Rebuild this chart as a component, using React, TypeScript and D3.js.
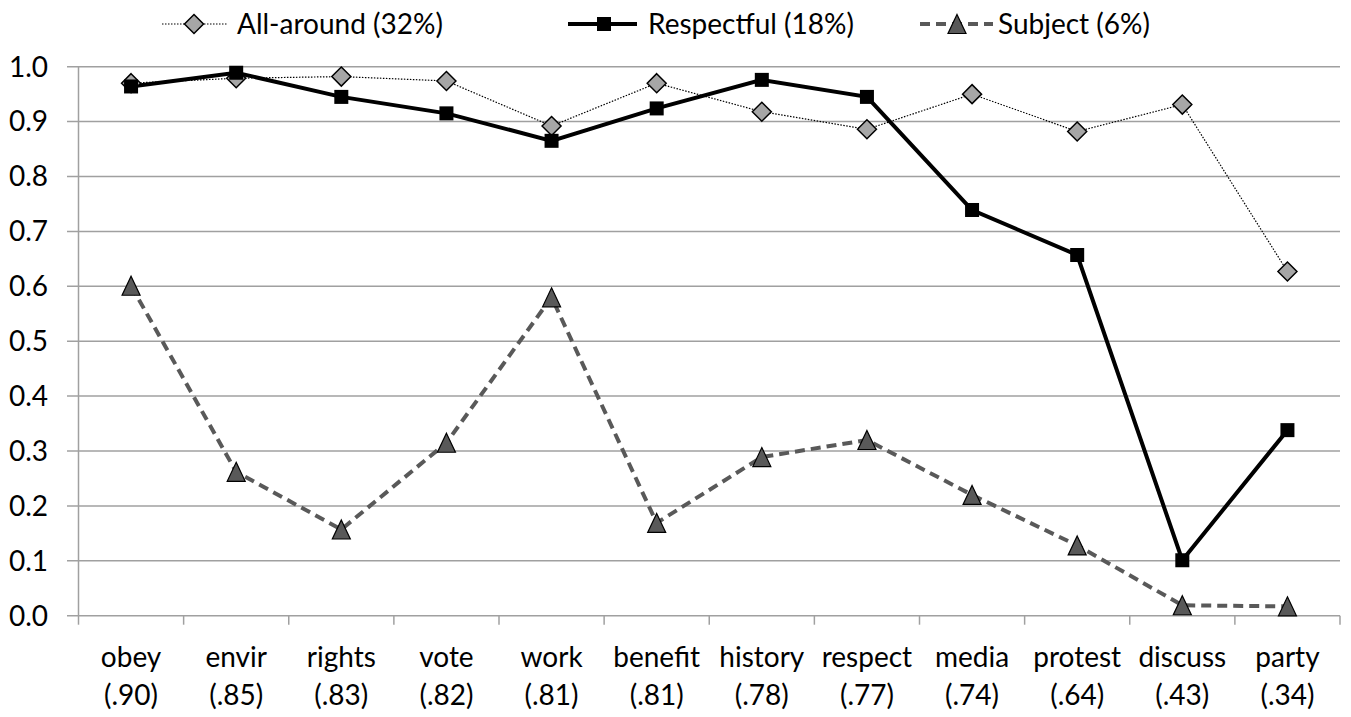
import React from "react";
import * as d3 from "d3";

const categories = ["obey", "envir", "rights", "vote", "work", "benefit", "history", "respect", "media", "protest", "discuss", "party"];
const loadings = ["(.90)", "(.85)", "(.83)", "(.82)", "(.81)", "(.81)", "(.78)", "(.77)", "(.74)", "(.64)", "(.43)", "(.34)"];
const allAround = [0.970, 0.979, 0.982, 0.974, 0.892, 0.970, 0.918, 0.886, 0.950, 0.882, 0.931, 0.627];
const respectful = [0.964, 0.989, 0.945, 0.915, 0.865, 0.924, 0.976, 0.945, 0.739, 0.657, 0.101, 0.338];
const subject = [0.601, 0.262, 0.157, 0.315, 0.580, 0.169, 0.289, 0.320, 0.220, 0.128, 0.019, 0.017];
const yTicks = [0, 0.1, 0.2, 0.3, 0.4, 0.5, 0.6, 0.7, 0.8, 0.9, 1.0];
const legendLabels = ["All-around (32%)", "Respectful (18%)", "Subject (6%)"];

const FONT = "Lato, 'Open Sans', sans-serif";
const FS = 28;

export default function App() {
  const W = 1351, H = 717;
  const left = 78.5, right = 1340, top = 66.7, bottom = 615.7;
  const x = d3.scaleBand<string>().domain(categories).range([left, right]);
  const bw = x.bandwidth();
  const cx = (c: string) => (x(c) as number) + bw / 2;
  const y = d3.scaleLinear().domain([0, 1]).range([bottom, top]);
  const line = d3.line<number>().x((_, i) => cx(categories[i])).y((d) => y(d));

  const diamond = (px: number, py: number, key: any) => (
    <path key={key} d={`M${px},${py - 9.5}L${px + 9.5},${py}L${px},${py + 9.5}L${px - 9.5},${py}Z`} fill="#a6a6a6" stroke="#000" strokeWidth={1.5} />
  );
  const square = (px: number, py: number, key: any) => (
    <rect key={key} x={px - 7} y={py - 7} width={14} height={14} fill="#000" />
  );
  const triangle = (px: number, py: number, key: any) => (
    <path key={key} d={`M${px},${py - 9.5}L${px + 9},${py + 9.5}L${px - 9},${py + 9.5}Z`} fill="#595959" stroke="#000" strokeWidth={1.2} />
  );

  const bounds = d3.range(categories.length + 1).map((i) => left + i * bw);

  return (
    <svg width={W} height={H} style={{ position: "absolute", left: 0, top: 0, background: "#fff" }} fontFamily={FONT}>
      {yTicks.map((t) => (
        <line key={"g" + t} x1={67} x2={right} y1={y(t)} y2={y(t)} stroke="#a0a0a0" strokeWidth={1.5} />
      ))}
      <line x1={left} x2={left} y1={top} y2={bottom} stroke="#a0a0a0" strokeWidth={1.5} />
      {bounds.map((b, i) => (
        <line key={"xt" + i} x1={b} x2={b} y1={bottom} y2={bottom + 9} stroke="#a0a0a0" strokeWidth={1.5} />
      ))}
      {yTicks.map((t) => (
        <text key={"yl" + t} x={48} y={y(t)} dy="0.35em" textAnchor="end" fontSize={FS} fill="#000">
          {t.toFixed(1)}
        </text>
      ))}
      {categories.map((c, i) => (
        <g key={"xl" + c}>
          <text x={cx(c)} y={667} textAnchor="middle" fontSize={FS} fill="#000">{c}</text>
          <text x={cx(c)} y={705} textAnchor="middle" fontSize={FS} fill="#000">{loadings[i]}</text>
        </g>
      ))}

      <path d={line(subject) as string} fill="none" stroke="#595959" strokeWidth={4} strokeDasharray="10 6" />
      <path d={line(allAround) as string} fill="none" stroke="#000" strokeWidth={1.2} strokeDasharray="1.5 1.5" />
      <path d={line(respectful) as string} fill="none" stroke="#000" strokeWidth={4} />

      {subject.map((v, i) => triangle(cx(categories[i]), y(v), "t" + i))}
      {allAround.map((v, i) => diamond(cx(categories[i]), y(v), "d" + i))}
      {respectful.map((v, i) => square(cx(categories[i]), y(v), "s" + i))}

      <g>
        <line x1={162} x2={227} y1={24} y2={24} stroke="#000" strokeWidth={1.2} strokeDasharray="1.5 1.5" />
        {diamond(194, 24, "ld")}
        <text x={237} y={24} dy="0.35em" fontSize={FS} fill="#000">{legendLabels[0]}</text>

        <line x1={568} x2={637} y1={24} y2={24} stroke="#000" strokeWidth={4} />
        {square(604, 24, "ls")}
        <text x={648} y={24} dy="0.35em" fontSize={FS} fill="#000">{legendLabels[1]}</text>

        <line x1={920} x2={993} y1={24} y2={24} stroke="#595959" strokeWidth={4} strokeDasharray="10 6" />
        {triangle(957, 24, "lt")}
        <text x={998} y={24} dy="0.35em" fontSize={FS} fill="#000">{legendLabels[2]}</text>
      </g>
    </svg>
  );
}
